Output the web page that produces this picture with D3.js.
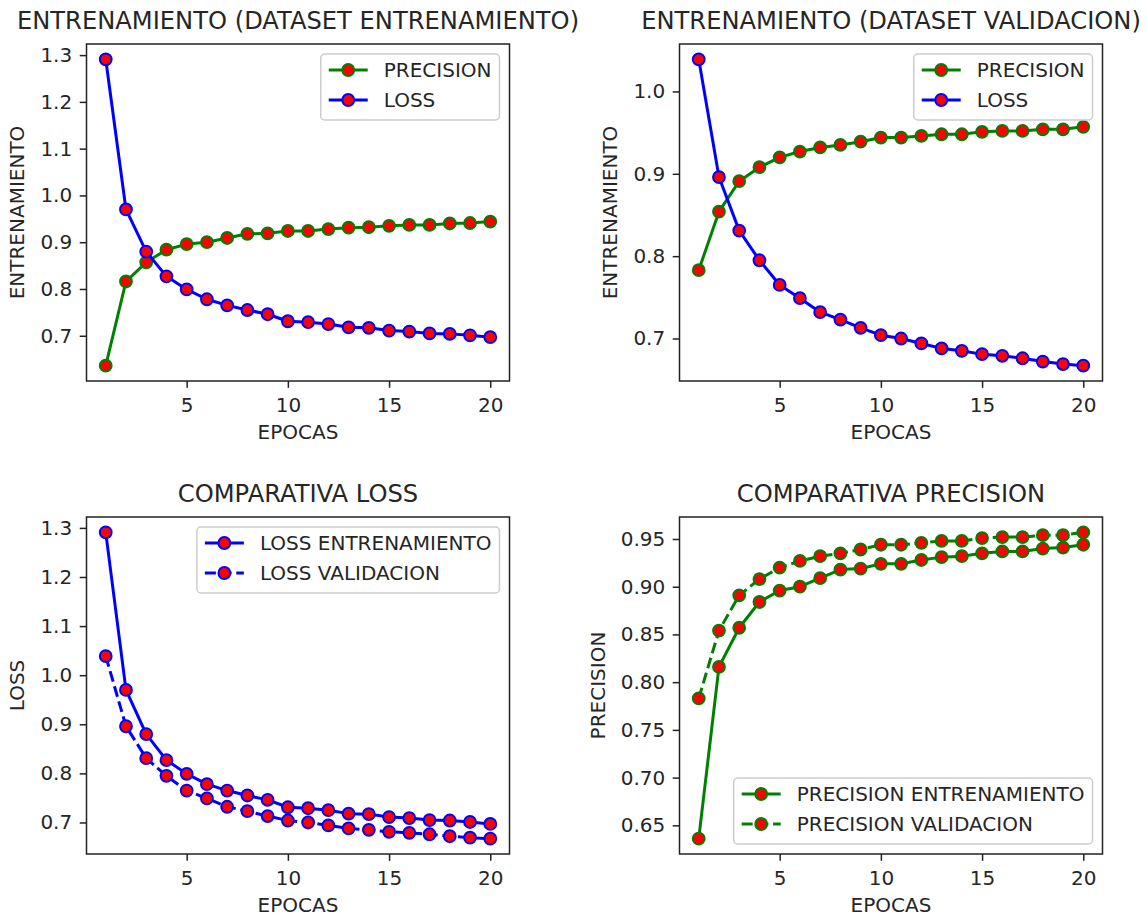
<!DOCTYPE html>
<html>
<head>
<meta charset="utf-8">
<script src="https://cdn.jsdelivr.net/npm/d3@7"></script>
<style>
	body { margin: 0; background: #fff; }
	text { font-family: "DejaVu Sans", sans-serif; fill: #262626; }
</style>
</head>
<body>
<svg id="chart" width="1147" height="918"></svg>
<script>
const epocas = [1, 2, 3, 4, 5, 6, 7, 8, 9, 10, 11, 12, 13, 14, 15, 16, 17, 18, 19, 20];

const lossTrain = [1.291, 0.970, 0.880, 0.827, 0.799, 0.778, 0.765, 0.755, 0.746, 0.731,
	0.729, 0.725, 0.718, 0.717, 0.711, 0.709, 0.705, 0.704, 0.701, 0.697];
const lossVal = [1.039, 0.896, 0.831, 0.795, 0.765, 0.749, 0.732, 0.723, 0.713, 0.704,
	0.700, 0.694, 0.688, 0.685, 0.681, 0.679, 0.676, 0.672, 0.669, 0.667];
const precisionTrain = [0.636, 0.816, 0.857, 0.884, 0.896, 0.900, 0.909, 0.918, 0.919, 0.924,
	0.924, 0.928, 0.931, 0.932, 0.935, 0.937, 0.937, 0.940, 0.941, 0.944];
const precisionVal = [0.783, 0.854, 0.891, 0.908, 0.920, 0.927, 0.932, 0.935, 0.939, 0.944,
	0.944, 0.946, 0.948, 0.948, 0.951, 0.952, 0.952, 0.954, 0.954, 0.957];

const xTicks = [5, 10, 15, 20];
const yTicksLoss = [0.7, 0.8, 0.9, 1.0, 1.1, 1.2, 1.3];
const yTicksVal = [0.7, 0.8, 0.9, 1.0];
const yTicksPrec = [0.65, 0.70, 0.75, 0.80, 0.85, 0.90, 0.95];

const GREEN = "#008000", BLUE = "#0000ff", RED = "#ff0000";
const FS = 20, TITLE_FS = 24.2;

var panels = [
	{ left: 86.5, top: 44, title: "ENTRENAMIENTO (DATASET ENTRENAMIENTO)", ylabel: "ENTRENAMIENTO",
		yticks: yTicksLoss, fmt: ".1f", legend: "top",
		series: [
			{ name: "PRECISION", values: precisionTrain, color: GREEN, dash: false },
			{ name: "LOSS", values: lossTrain, color: BLUE, dash: false }] },
	{ left: 679.5, top: 44, title: "ENTRENAMIENTO (DATASET VALIDACION)", ylabel: "ENTRENAMIENTO",
		yticks: yTicksVal, fmt: ".1f", legend: "top",
		series: [
			{ name: "PRECISION", values: precisionVal, color: GREEN, dash: false },
			{ name: "LOSS", values: lossVal, color: BLUE, dash: false }] },
	{ left: 86.5, top: 517, title: "COMPARATIVA LOSS", ylabel: "LOSS",
		yticks: yTicksLoss, fmt: ".1f", legend: "top",
		series: [
			{ name: "LOSS ENTRENAMIENTO", values: lossTrain, color: BLUE, dash: false },
			{ name: "LOSS VALIDACION", values: lossVal, color: BLUE, dash: true }] },
	{ left: 679.5, top: 517, title: "COMPARATIVA PRECISION", ylabel: "PRECISION",
		yticks: yTicksPrec, fmt: ".2f", legend: "bottom",
		series: [
			{ name: "PRECISION ENTRENAMIENTO", values: precisionTrain, color: GREEN, dash: false },
			{ name: "PRECISION VALIDACION", values: precisionVal, color: GREEN, dash: true }] }
];

const width = 423, height = 337;

var svg = d3.select("#chart");

function pad(ext) {
	let m = (ext[1] - ext[0]) * 0.05;
	return [ext[0] - m, ext[1] + m];
}

function drawPanel(p) {
	let g = svg.append("g").attr("transform", `translate(${p.left}, ${p.top})`);

	let x = d3.scaleLinear().domain(pad(d3.extent(epocas))).range([0, width]);
	let all = p.series.flatMap(s => s.values);
	let y = d3.scaleLinear().domain(pad(d3.extent(all))).range([height, 0]);

	let xAxis = g.append("g")
		.attr("transform", `translate(0, ${height})`)
		.call(d3.axisBottom(x).tickValues(xTicks).tickSize(6.8).tickPadding(6).tickFormat(d3.format("d")));
	let yAxis = g.append("g")
		.call(d3.axisLeft(y).tickValues(p.yticks).tickSize(6.8).tickPadding(7.5).tickFormat(d3.format(p.fmt)));

	for (let ax of [xAxis, yAxis]) {
		ax.select(".domain").remove();
		ax.selectAll(".tick line").attr("stroke", "#222").attr("stroke-width", 1.5);
		ax.selectAll(".tick text").attr("font-size", FS + "px").attr("font-family", "DejaVu Sans").attr("fill", "#262626");
	}
	xAxis.selectAll(".tick text").attr("dy", "0.9em");

	let line = d3.line().x((d, i) => x(epocas[i])).y(d => y(d));
	for (let s of p.series) {
		g.append("path")
			.datum(s.values)
			.attr("d", line)
			.attr("fill", "none")
			.attr("stroke", s.color)
			.attr("stroke-width", 3)
			.attr("stroke-linejoin", "round")
			.attr("stroke-dasharray", s.dash ? "11,4.7" : null);
		g.selectAll(null)
			.data(s.values)
			.enter().append("circle")
			.attr("cx", (d, i) => x(epocas[i]))
			.attr("cy", d => y(d))
			.attr("r", 5.9)
			.attr("fill", RED)
			.attr("stroke", s.color)
			.attr("stroke-width", 2);
	}

	g.append("rect")
		.attr("width", width)
		.attr("height", height)
		.attr("fill", "none")
		.attr("stroke", "#222")
		.attr("stroke-width", 1.5);

	// titles and labels
	g.append("text")
		.attr("x", width / 2)
		.attr("y", -15)
		.attr("text-anchor", "middle")
		.attr("font-size", TITLE_FS + "px")
		.text(p.title);
	g.append("text")
		.attr("x", width / 2)
		.attr("y", height + 58)
		.attr("text-anchor", "middle")
		.attr("font-size", FS + "px")
		.text("EPOCAS");
	let bb = yAxis.node().getBBox();
	g.append("text")
		.attr("transform", `translate(${bb.x - 16}, ${height / 2}) rotate(-90)`)
		.attr("text-anchor", "middle")
		.attr("font-size", FS + "px")
		.text(p.ylabel);

	// legend
	let lg = g.append("g");
	let box = lg.append("rect");
	let tw = 0;
	p.series.forEach((s, i) => {
		let cy = 16 + i * 30;
		lg.append("line")
			.attr("x1", 8).attr("x2", 47)
			.attr("y1", cy).attr("y2", cy)
			.attr("stroke", s.color)
			.attr("stroke-width", 3)
			.attr("stroke-dasharray", s.dash ? "11,4.7" : null);
		lg.append("circle")
			.attr("cx", 27.5).attr("cy", cy).attr("r", 5.9)
			.attr("fill", RED).attr("stroke", s.color).attr("stroke-width", 2);
		let t = lg.append("text")
			.attr("x", 63).attr("y", cy)
			.attr("dy", "0.36em")
			.attr("font-size", FS + "px")
			.text(s.name);
		tw = Math.max(tw, t.node().getComputedTextLength());
	});
	let lw = 63 + tw + 8, lh = 66;
	box.attr("width", lw).attr("height", lh)
		.attr("rx", 4).attr("ry", 4)
		.attr("fill", "white").attr("fill-opacity", 0.8)
		.attr("stroke", "#cccccc").attr("stroke-width", 1.5);
	let ly = p.legend == "top" ? 10 : height - 10 - lh;
	lg.attr("transform", `translate(${width - 10 - lw}, ${ly})`);
}

panels.forEach(drawPanel);
</script>
</body>
</html>
